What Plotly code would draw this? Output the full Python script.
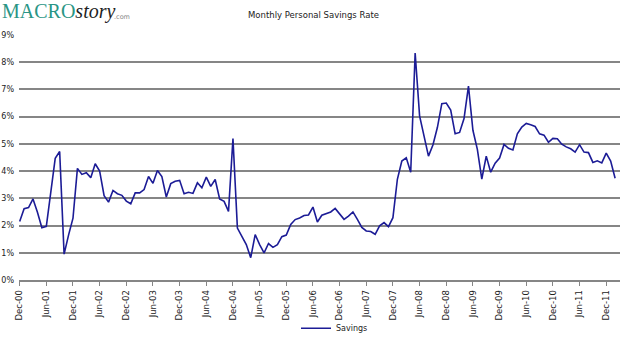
import pandas as pd
import plotly.graph_objects as go

# Monthly personal savings rate (%), Dec-2000 through Feb-2012
start_month = "2000-12"
savings = [
    2.15, 2.62, 2.66, 2.98, 2.49, 1.92, 1.97, 3.25, 4.47, 4.72, 0.95, 1.65,
    2.27, 4.10, 3.88, 3.94, 3.76, 4.27, 4.00, 3.10, 2.86, 3.29, 3.17, 3.11,
    2.90, 2.80, 3.20, 3.20, 3.32, 3.80, 3.55, 4.02, 3.80, 3.05, 3.54, 3.63,
    3.66, 3.17, 3.22, 3.18, 3.57, 3.39, 3.78, 3.44, 3.69, 2.98, 2.89, 2.52,
    5.20, 1.91, 1.60, 1.30, 0.82, 1.67, 1.30, 1.00, 1.34, 1.20, 1.30, 1.59,
    1.65, 2.04, 2.22, 2.28, 2.37, 2.39, 2.68, 2.13, 2.38, 2.43, 2.50, 2.63,
    2.45, 2.23, 2.35, 2.50, 2.23, 1.93, 1.80, 1.78, 1.68, 1.99, 2.11, 1.96,
    2.29, 3.70, 4.37, 4.49, 3.96, 8.34, 6.03, 5.30, 4.55, 4.96, 5.60, 6.48,
    6.50, 6.24, 5.37, 5.42, 5.93, 7.12, 5.50, 4.80, 3.71, 4.55, 3.96, 4.29,
    4.48, 4.98, 4.84, 4.78, 5.37, 5.62, 5.75, 5.70, 5.64, 5.37, 5.32, 5.06,
    5.20, 5.19, 4.99, 4.89, 4.82, 4.70, 4.97, 4.70, 4.68, 4.32, 4.38, 4.30,
    4.66, 4.37, 3.74,
]
months = [p.strftime("%b-%y") for p in
          pd.period_range(start_month, periods=len(savings), freq="M")]
tick_step = 6
tick_index = list(range(0, len(savings), tick_step))
tick_labels = [months[i] for i in tick_index]
y_ticks = list(range(0, 10))

W, H = 620, 337
L, R, T, B = 19, 0, 34.5, 56.5
plot_w, plot_h = W - L - R, H - T - B


def px(x):
    return (x - L) / plot_w


def py(y):
    return (H - B - y) / plot_h


FONT = "DejaVu Sans"
GRID = "#868686"

fig = go.Figure()
fig.add_trace(go.Scatter(
    x=list(range(len(savings))), y=savings, mode="lines", name="Savings",
    line=dict(color="#1c1c96", width=1.6),
    text=months, hovertemplate="%{text}: %{y:.2f}%<extra></extra>",
))

fig.update_layout(
    width=W, height=H,
    margin=dict(l=L, r=R, t=T, b=B, pad=0, autoexpand=False),
    paper_bgcolor="white", plot_bgcolor="white",
    font=dict(family=FONT, size=8, color="#222"),
    showlegend=True,
    legend=dict(orientation="h", x=px(296), xanchor="left",
                y=py(329), yanchor="middle",
                font=dict(family=FONT, size=8, color="#222"),
                bgcolor="rgba(0,0,0,0)", borderwidth=0,
                itemwidth=30, tracegroupgap=0),
    xaxis=dict(
        range=[-0.15, len(savings) + 0.1],
        tickmode="array", tickvals=tick_index, ticktext=tick_labels,
        tickangle=-90, ticks="outside", ticklen=4, tickwidth=1,
        tickcolor=GRID, showgrid=False, zeroline=False,
        showline=True, linecolor=GRID, linewidth=1.5,
        ticklabelstandoff=1, automargin=False,
        tickfont=dict(family=FONT, size=8.5, color="#222"),
    ),
    yaxis=dict(
        range=[0, 9], tickmode="array", tickvals=y_ticks,
        ticktext=[f"{v}%" for v in y_ticks],
        showgrid=True, gridcolor=GRID, gridwidth=1.5,
        zeroline=False, showline=False, ticks="",
        ticklabelstandoff=4, automargin=False,
        tickfont=dict(family=FONT, size=8, color="#222"),
    ),
)

# chart title
fig.add_annotation(
    text="Monthly Personal Savings Rate", xref="paper", yref="paper",
    x=px(313), y=py(14), xanchor="center", yanchor="middle",
    showarrow=False, font=dict(family=FONT, size=8.5, color="#222"),
)

# site logo
fig.add_annotation(
    text="<span style='color:#2a9585'>MACRO</span><i>story</i>",
    xref="paper", yref="paper", x=px(0), y=py(11),
    xanchor="left", yanchor="middle", showarrow=False,
    font=dict(family="Liberation Serif", size=20, color="#1e1e1e"),
)
fig.add_annotation(
    text=".com", xref="paper", yref="paper", x=px(112), y=py(16),
    xanchor="left", yanchor="middle", showarrow=False,
    font=dict(family=FONT, size=6.5, color="#888"),
)

fig.write_html("out.html")
